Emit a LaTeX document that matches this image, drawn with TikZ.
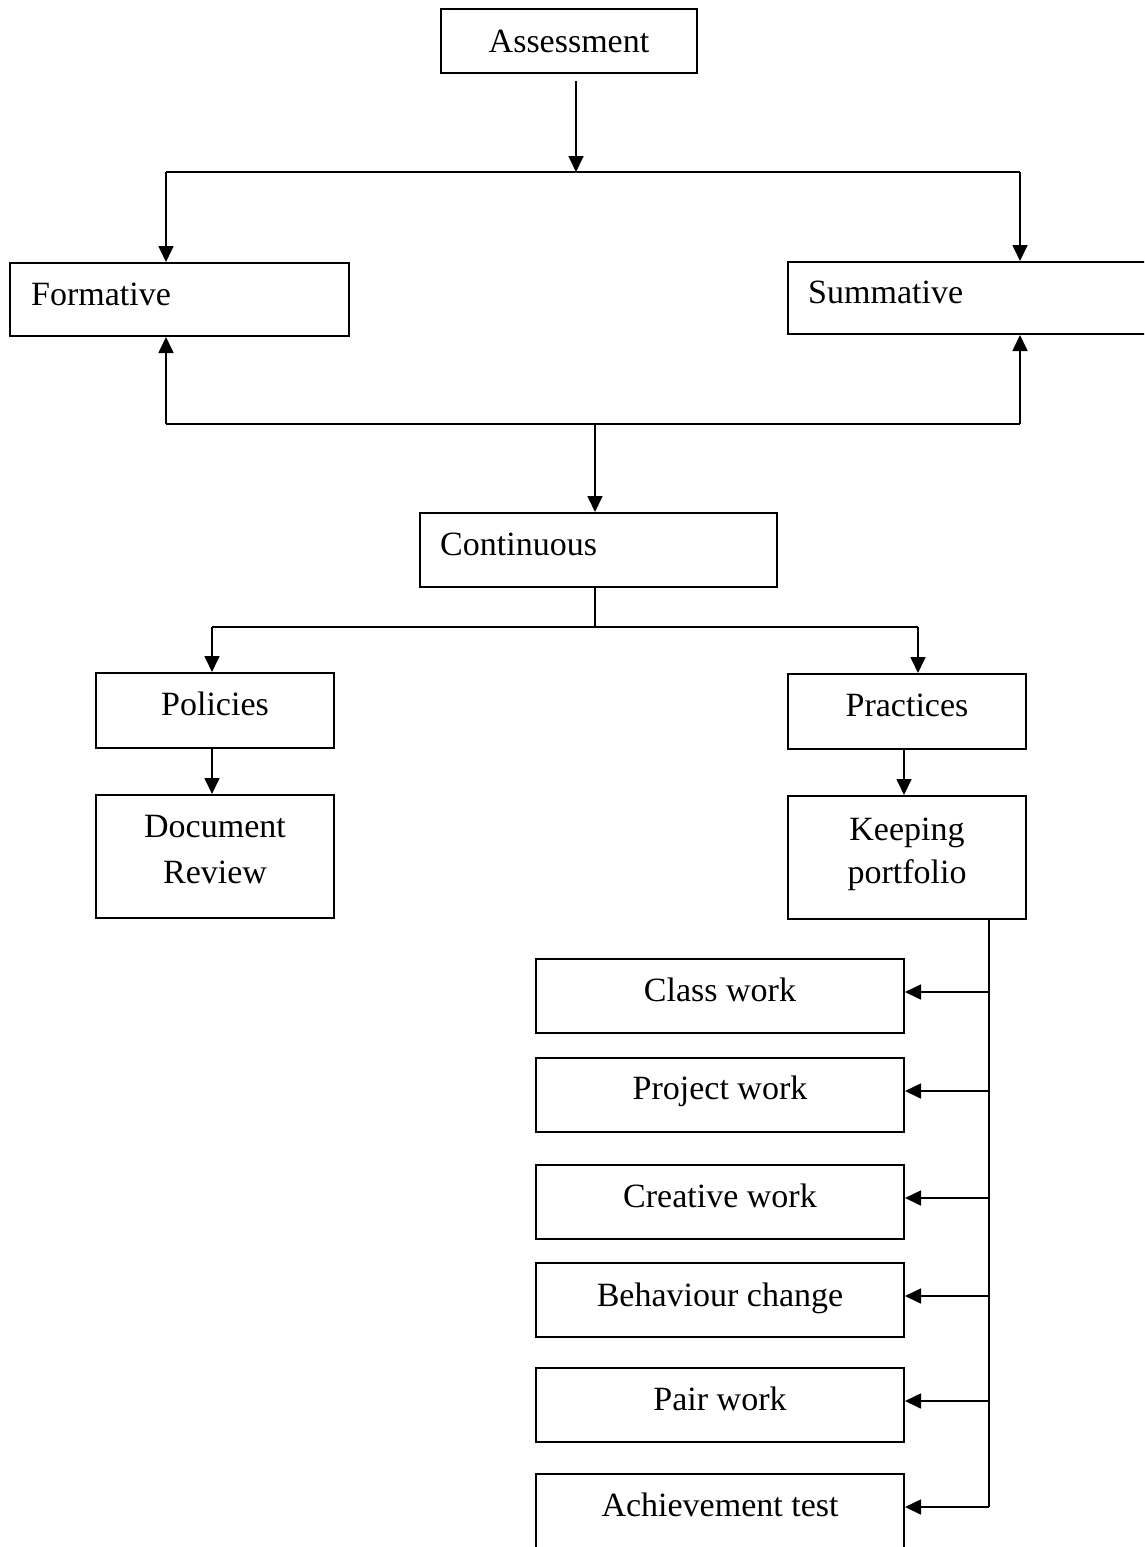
\documentclass[tikz,border=0pt]{standalone}
\usepackage{fontspec}
\setmainfont{Liberation Serif}
\usetikzlibrary{arrows.meta}
\tikzset{
  box/.style={draw, line width=2pt, rectangle, inner sep=0pt},
  lbl/.style={inner sep=0pt, anchor=base, font=\fontsize{34}{40}\selectfont},
  lblw/.style={lbl, anchor=base west},
  conn/.style={line width=1.7pt},
  arr/.style={conn, -{Triangle[length=16pt,width=15pt]}}
}
\begin{document}
\begin{tikzpicture}[x=1pt,y=-1pt]
\useasboundingbox (0,0) rectangle (1144,1547);
\clip (0,0) rectangle (1144,1547);
\fill[white] (0,0) rectangle (1144,1547);

% boxes
\node[box, minimum width=256, minimum height=64] (A) at (569,41) {};
\node[box, minimum width=339, minimum height=73] (F) at (179.5,299.5) {};
\node[box, minimum width=362, minimum height=72] (S) at (969,298) {};
\node[box, minimum width=357, minimum height=74] (C) at (598.5,550) {};
\node[box, minimum width=238, minimum height=75] (Po) at (215,710.5) {};
\node[box, minimum width=238, minimum height=75] (Pr) at (907,711.5) {};
\node[box, minimum width=238, minimum height=123] (D) at (215,856.5) {};
\node[box, minimum width=238, minimum height=123] (K) at (907,857.5) {};
\node[box, minimum width=368, minimum height=74] (cw) at (720,996) {};
\node[box, minimum width=368, minimum height=74] (pw) at (720,1095) {};
\node[box, minimum width=368, minimum height=74] (crw) at (720,1202) {};
\node[box, minimum width=368, minimum height=74] (bc) at (720,1300) {};
\node[box, minimum width=368, minimum height=74] (pa) at (720,1405) {};
\node[box, minimum width=368, minimum height=74] (at) at (720,1511) {};

% texts
\node[lbl] (At) at (569,52) {Assessment};
\node[lblw] (Ft) at (31,305) {Formative};
\node[lblw] (St) at (808,303) {Summative};
\node[lblw] (Ct) at (440,555) {Continuous};
\node[lbl] (Pot) at (215,715) {Policies};
\node[lbl] (Prt) at (907,716) {Practices};
\node[lbl] (Dt1) at (215,837) {Document};
\node[lbl] (Dt2) at (215,883) {Review};
\node[lbl] (Kt1) at (907,840) {Keeping};
\node[lbl] (Kt2) at (907,883) {portfolio};
\node[lbl] (cwt) at (720,1001) {Class work};
\node[lbl] (pwt) at (720,1099) {Project work};
\node[lbl] (crwt) at (720,1207) {Creative work};
\node[lbl] (bct) at (720,1306) {Behaviour change};
\node[lbl] (pat) at (720,1410) {Pair work};
\node[lbl] (att) at (720,1516) {Achievement test};

% junction coordinates
\coordinate (j1) at (576,172);
\coordinate (jl) at (166,172);
\coordinate (jr) at (1020,172);
\coordinate (bl) at (166,424);
\coordinate (br) at (1020,424);
\coordinate (bm) at (595,424);
\coordinate (cm) at (595,627);
\coordinate (pl) at (212,627);
\coordinate (pr) at (918,627);
\coordinate (kx) at (904,0);
\coordinate (tr) at (989,1507);

% connectors
\draw[arr] (A.south -| j1) ++(0,7) -- (j1);
\draw[conn] (jl) -- (jr);
\draw[arr] (jl) -- (jl |- F.north);
\draw[arr] (jr) -- (jr |- S.north);
\draw[conn] (bl) -- (br);
\draw[arr] (bl) -- (bl |- F.south);
\draw[arr] (br) -- (br |- S.south);
\draw[arr] (bm) -- (bm |- C.north);
\draw[conn] (cm |- C.south) -- (cm);
\draw[conn] (pl) -- (pr);
\draw[arr] (pl) -- (pl |- Po.north);
\draw[arr] (pr) -- (pr |- Pr.north);
\draw[arr] (Po.south -| pl) -- (D.north -| pl);
\draw[arr] (Pr.south -| kx) -- (K.north -| kx);
\draw[conn] (K.south -| tr) -- (tr);
\foreach \b in {cw,pw,crw,bc,pa,at}{
  \draw[arr] ([yshift=4pt]\b.east -| tr) -- ([yshift=4pt]\b.east);
}
\end{tikzpicture}
\end{document}
